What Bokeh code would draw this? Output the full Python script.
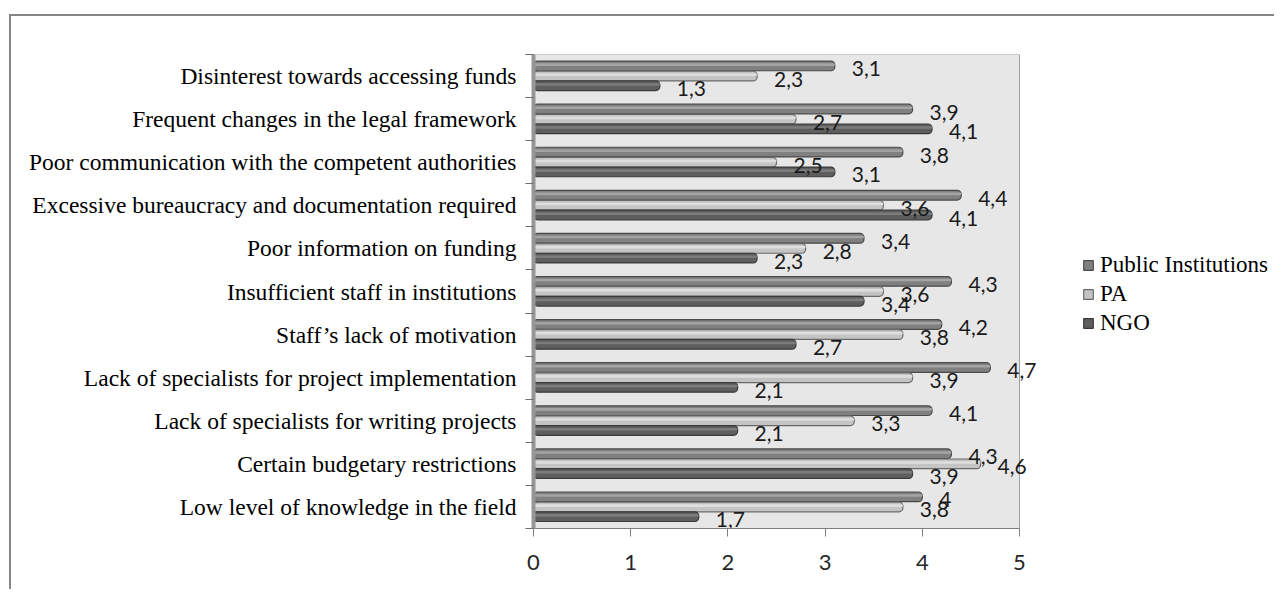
from bokeh.plotting import figure
from bokeh.models import ColumnDataSource, FixedTicker, Legend, LegendItem, Range1d
from bokeh.core.properties import value
from bokeh.embed import file_html
from bokeh.resources import INLINE

categories = [
    "Disinterest towards accessing funds",
    "Frequent changes in the legal framework",
    "Poor communication with the competent authorities",
    "Excessive bureaucracy and documentation required",
    "Poor information on funding",
    "Insufficient staff in institutions",
    "Staff\u2019s lack of motivation",
    "Lack of specialists for project implementation",
    "Lack of specialists for writing projects",
    "Certain budgetary restrictions",
    "Low level of knowledge in the field",
]
public_institutions = [3.1, 3.9, 3.8, 4.4, 3.4, 4.3, 4.2, 4.7, 4.1, 4.3, 4.0]
pa = [2.3, 2.7, 2.5, 3.6, 2.8, 3.6, 3.8, 3.9, 3.3, 4.6, 3.8]
ngo = [1.3, 4.1, 3.1, 4.1, 2.3, 3.4, 2.7, 2.1, 2.1, 3.9, 1.7]
series_names = ["Public Institutions", "PA", "NGO"]
x_ticks = [0, 1, 2, 3, 4, 5]

n = len(categories)
centers = [n - i - 0.5 for i in range(n)]
boundaries = list(range(n + 1))

def fmt(v):
    return str(int(v)) if float(v).is_integer() else str(v).replace(".", ",")

series = [public_institutions, pa, ngo]
offsets = [0.235, 0.0, -0.225]
fills = ["#808080", "#c4c4c4", "#5e5e5e"]
lines = ["#4a4a4a", "#6a6a6a", "#3a3a3a"]
highlights = ["#a4a4a4", "#dedede", "#7c7c7c"]

W, H = 1265, 575
LEFT, TOP, BOTTOM = 522, 38, 63
PX_PER_UNIT = 97.2
x_max = (W - LEFT) / PX_PER_UNIT   # frame reaches the right edge; legend sits inside it

p = figure(width=W, height=H,
           x_range=Range1d(x_ticks[0], x_max),
           y_range=Range1d(0, n),
           output_backend="svg", toolbar_location=None,
           min_border_left=LEFT, min_border_right=0,
           min_border_top=TOP, min_border_bottom=BOTTOM)
p.margin = (14, 0, 0, 9)
p.styles = {"border-top": "2px solid #868686", "border-left": "2px solid #868686"}
p.outline_line_color = None
p.background_fill_color = "white"
p.border_fill_color = "white"

# back wall of the chart, spanning the value axis
p.quad(left=x_ticks[0], right=x_ticks[-1], bottom=0, top=n,
       fill_color="#e7e7e7", line_color="#a0a0a0", line_width=1)

sources = []
items = []
for name, vals, off, fc, lc, hc in zip(series_names, series, offsets, fills, lines, highlights):
    ys = [c + off for c in centers]
    src = ColumnDataSource(dict(y=ys, v=vals, hy=[y + 0.03 for y in ys],
                                lab=[fmt(v) for v in vals]))
    sources.append(src)
    r = p.hbar(y="y", left=0, right="v", height=0.225, source=src,
               fill_color=fc, line_color=lc, line_width=1.2, border_radius=4)
    p.hbar(y="hy", left=0, right="v", height=0.06, source=src,
           fill_color=hc, line_color=None, border_radius=2)
    items.append(LegendItem(label=name, renderers=[r]))

for src in sources:
    p.text(x="v", y="y", text="lab", source=src, x_offset=17, y_offset=3,
           text_baseline="middle", text_align="left",
           text_font=value("Lato"), text_font_size="21px", text_color="#1a1a1a")

legend = Legend(items=items, location=(549, 192), orientation="vertical",
                glyph_width=12, glyph_height=12, label_height=12, spacing=3,
                padding=0, margin=0, label_standoff=6,
                label_text_font="Liberation Serif", label_text_font_size="23px",
                label_text_color="black", background_fill_alpha=0,
                border_line_color=None)
p.add_layout(legend, "center")

# x axis
p.xaxis.ticker = FixedTicker(ticks=x_ticks)
p.xaxis.bounds = (x_ticks[0], x_ticks[-1])
p.xaxis.axis_line_color = "#7f7f7f"
p.xaxis.major_tick_line_color = "#7f7f7f"
p.xaxis.major_tick_out = 8
p.xaxis.major_tick_in = 0
p.xaxis.minor_tick_line_color = None
p.xaxis.major_label_standoff = 18
p.xaxis.major_label_text_font = "Lato"
p.xaxis.major_label_text_font_size = "22px"
p.xaxis.major_label_text_color = "#262626"

# y axis: labels at category centres, ticks at boundaries
p.yaxis.ticker = FixedTicker(ticks=centers, minor_ticks=boundaries)
p.yaxis.major_label_overrides = {c: cat for c, cat in zip(centers, categories)}
p.yaxis.major_tick_line_color = None
p.yaxis.minor_tick_out = 8
p.yaxis.minor_tick_in = 0
p.yaxis.minor_tick_line_color = "#6f6f6f"
p.yaxis.axis_line_color = "#969696"
p.yaxis.axis_line_width = 4
p.yaxis.major_label_standoff = 9
p.yaxis.major_label_text_font = "Liberation Serif"
p.yaxis.major_label_text_font_size = "23.5px"
p.yaxis.major_label_text_color = "black"

p.xgrid.ticker = FixedTicker(ticks=x_ticks[1:-1])
p.xgrid.grid_line_color = "#8a8a8a"
p.xgrid.grid_line_width = 1.5
p.ygrid.grid_line_color = None

open("out.html", "w").write(file_html(p, INLINE))
